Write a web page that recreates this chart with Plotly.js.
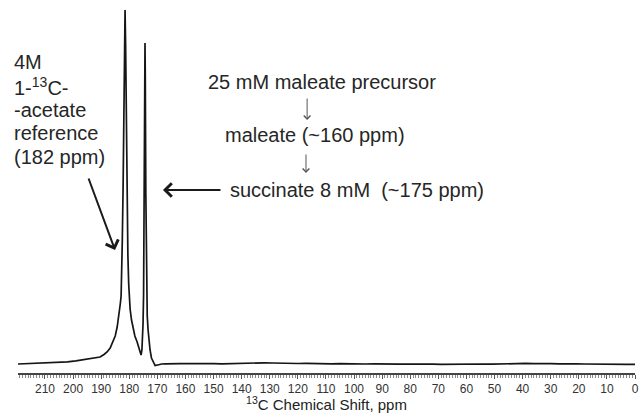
<!DOCTYPE html>
<html>
<head>
<meta charset="utf-8">
<script src="https://cdn.plot.ly/plotly-3.0.1.min.js"></script>
<style>html,body{margin:0;padding:0;background:#fff;}#chart{width:642px;height:413px;}</style>
</head>
<body>
<div id="chart"></div>
<script>
// Chemical shift (ppm) and signal intensity (arbitrary units)
const shiftPpm = [219.6, 217, 214, 211, 208, 205, 202, 199, 196.4, 193, 190.4, 189, 187.9, 186.8, 185.8, 185, 184.3, 183.8, 183.5, 183.2, 182.9, 182.7, 182.5, 182.2, 181.9, 181.7, 181.5, 181.3, 181.1, 180.8, 180.5, 180.2, 179.9, 179.7, 179.2, 178.6, 178, 177.2, 176.6, 176.2, 175.8, 175.5, 175.3, 175.1, 174.9, 174.7, 174.5, 174.4, 174.3, 174.1, 173.9, 173.6, 173.3, 173, 172.6, 172.1, 171.5, 170.8, 170.2, 169.5, 168.5, 167, 165, 162, 159, 156, 153, 150, 147, 144, 141, 138, 135, 132, 129, 126, 123, 120, 117, 114, 111, 108, 105, 102, 99, 96, 93, 90, 87, 84, 81, 78, 75, 72, 69, 66, 63, 60, 57, 54, 51, 48, 45, 42, 39, 36, 33, 30, 27, 24, 21, 18, 15, 12, 9, 6, 3, 0];
const intensity = [0, 0.3, 0.6, 1, 1.2, 1.6, 2.2, 3.2, 4.5, 5.5, 7, 9.5, 12, 16, 22, 28, 37, 46, 54, 60, 68, 90, 120, 175, 264, 320, 354, 320, 250, 170, 110, 80, 64, 55, 44, 35, 28, 22, 16, 12, 9, 14, 24, 40, 70, 160, 290, 321, 290, 170, 80, 48, 34, 24, 14, 6, 2, -1.5, -1.2, -0.5, 0, 0.2, 0, 0.3, 0.5, 0.2, 0.6, 0.3, 0.1, 0.4, 0.2, 0.5, 0.8, 1.2, 1.0, 0.7, 0.9, 0.5, 0.6, 0.3, 0.5, 0.2, 0.4, 0.1, 0.3, 0.0, 0.2, -0.1, 0.1, -0.2, 0.0, -0.3, -0.1, -0.2, -0.4, -0.2, -0.3, -0.1, 0.2, 0.0, -0.2, 0.1, 0.4, 0.2, 0.6, 0.3, 0.7, 0.4, 0.2, 0.5, 0.1, 0.0, -0.2, -0.1, -0.3, -0.2, -0.4, -0.3];

const axisTitle = "<sup>13</sup>C Chemical Shift, ppm";
const refLines = ["4M", "1-<sup>13</sup>C-", "-acetate", "reference", "(182 ppm)"];
const precursorText = "25 mM maleate precursor";
const maleateText = "maleate (~160 ppm)";
const succinateText = "succinate 8 mM \u00a0(~175 ppm)";

const FONT = "Liberation Sans, Arial, sans-serif";
const TXT = "#262626";

const trace = {
  x: shiftPpm, y: intensity, type: "scatter", mode: "lines",
  line: {color: "#151515", width: 1.7}, hoverinfo: "skip"
};

const annotations = [];
const refY = [302, 278, 254, 231, 207];
refLines.forEach((t, i) => annotations.push({
  x: -0.009, y: refY[i], xref: "paper", yref: "y", text: t, showarrow: false,
  xanchor: "left", yanchor: "middle", font: {family: FONT, size: 20, color: TXT}
}));
annotations.push({x: 152.7, y: 282, xref: "x", yref: "y", text: precursorText, showarrow: false,
  xanchor: "left", yanchor: "middle", font: {family: FONT, size: 20, color: TXT}});
annotations.push({x: 146.6, y: 229, xref: "x", yref: "y", text: maleateText, showarrow: false,
  xanchor: "left", yanchor: "middle", font: {family: FONT, size: 20, color: TXT}});
annotations.push({x: 144.9, y: 174, xref: "x", yref: "y", text: succinateText, showarrow: false,
  xanchor: "left", yanchor: "middle", font: {family: FONT, size: 20, color: TXT}});
// arrows
annotations.push({x: 185.07, y: 114, xref: "x", yref: "y", text: "", showarrow: true,
  ax: -27, ay: -73, arrowhead: 4, arrowsize: 1.3, arrowwidth: 2, arrowcolor: "#1a1a1a"});
annotations.push({x: 168.0, y: 174, xref: "x", yref: "y", text: "", showarrow: true,
  ax: 59, ay: 0, arrowhead: 4, arrowsize: 1.3, arrowwidth: 2, arrowcolor: "#1a1a1a"});
annotations.push({x: 116.7, y: 244, xref: "x", yref: "y", text: "", showarrow: true,
  ax: 0, ay: -23, arrowhead: 4, arrowsize: 1.3, arrowwidth: 1, arrowcolor: "#555"});
annotations.push({x: 117.1, y: 191, xref: "x", yref: "y", text: "", showarrow: true,
  ax: 0, ay: -20, arrowhead: 4, arrowsize: 1.3, arrowwidth: 1, arrowcolor: "#555"});

const layout = {
  width: 642, height: 413,
  margin: {l: 18, r: 7, t: 0, b: 40},
  paper_bgcolor: "#fff", plot_bgcolor: "#fff",
  showlegend: false,
  xaxis: {
    range: [219.6, 0], showgrid: false, zeroline: false,
    showline: true, linecolor: "#444", linewidth: 1.5,
    ticks: "outside", ticklen: 4, tickwidth: 1, tickcolor: "#555",
    tick0: 0, dtick: 10,
    minor: {dtick: 1, ticks: "outside", ticklen: 3, tickwidth: 1, tickcolor: "#888", showgrid: false},
    tickfont: {family: "Liberation Sans Narrow, Liberation Sans, Arial, sans-serif", size: 12, color: "#333"},
    title: {text: axisTitle, font: {family: FONT, size: 15, color: "#222"}, standoff: 8}
  },
  yaxis: {visible: false, range: [-9, 364], fixedrange: true},
  annotations: annotations
};

Plotly.newPlot("chart", [trace], layout, {staticPlot: true, displayModeBar: false});
</script>
</body>
</html>
